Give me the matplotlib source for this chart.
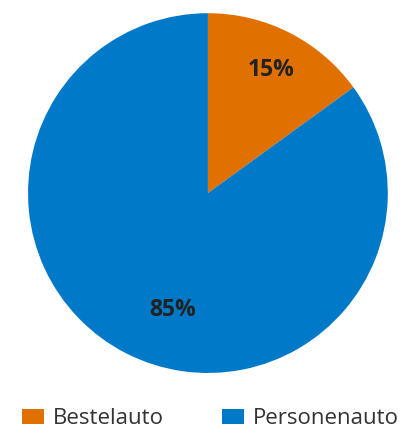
import numpy as np
import matplotlib
matplotlib.use("Agg")
from matplotlib import pyplot as plt

categories = ["Bestelauto", "Personenauto"]
shares = [15, 85]
colors = ["#E07000", "#0079C8"]

plt.rcParams['font.family'] = ['Open Sans', 'DejaVu Sans']

fig = plt.figure(figsize=(4.08, 4.34), dpi=100)
ax = fig.add_axes([0.0686, 0.1406, 0.882, 0.829])

wedges, texts, autotexts = ax.pie(
    shares, colors=colors, startangle=90, counterclock=False,
    autopct='%d%%', pctdistance=0.77,
    wedgeprops=dict(linewidth=0),
    textprops=dict(fontsize=16.5, fontweight='bold', color='#222222'))

# the 85% label sits a bit off the slice middle in the original
ang = np.deg2rad(197)
autotexts[1].set_position((0.68 * np.sin(ang), 0.68 * np.cos(ang)))
ax.set_xlim(-1, 1)
ax.set_ylim(-1, 1)

leg = fig.legend(wedges, categories, loc='lower left', ncol=2,
                 bbox_to_anchor=(0.005, -0.035), frameon=False,
                 fontsize=16, handlelength=1.0, handleheight=0.7,
                 handletextpad=0.4, columnspacing=2.6)
for t in leg.get_texts():
    t.set_color('#333333')

plt.savefig('out.png', dpi=100)
